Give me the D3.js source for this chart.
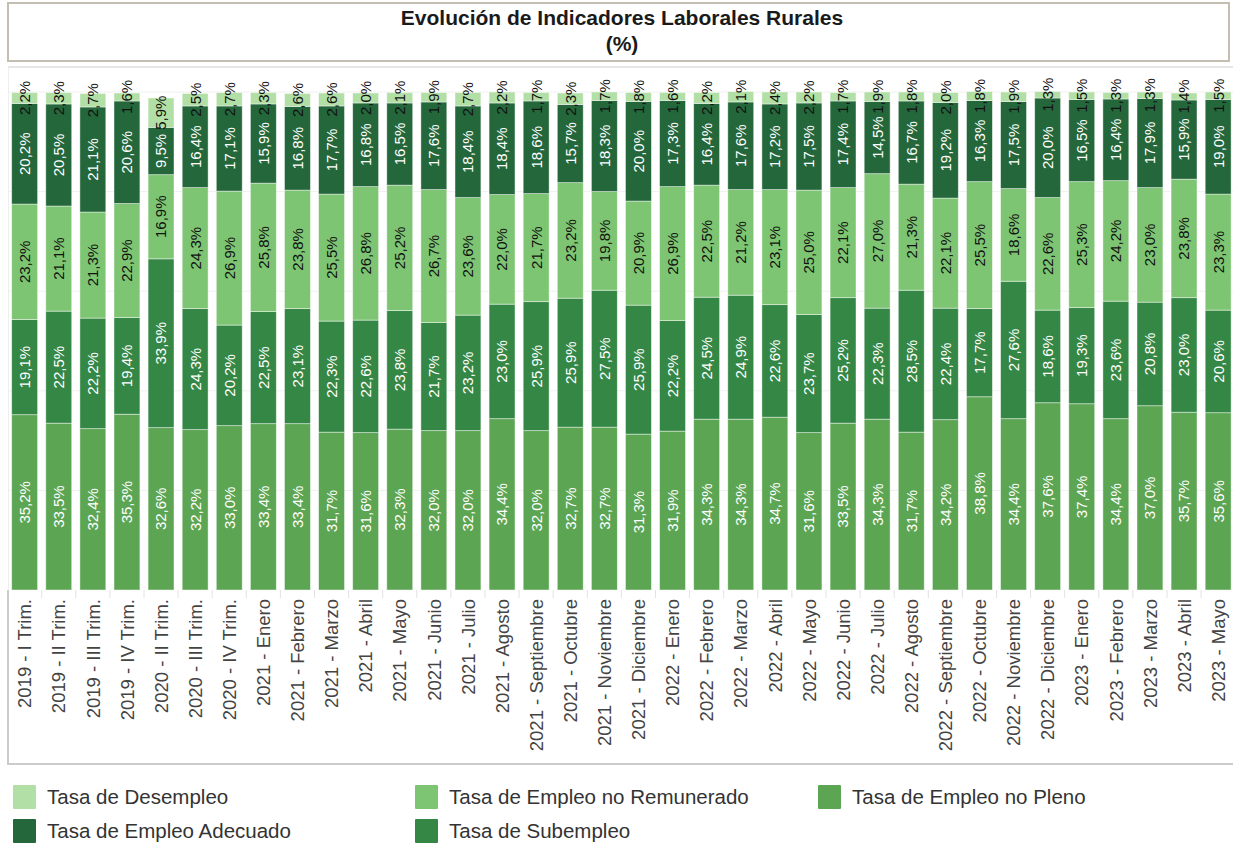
<!DOCTYPE html>
<html>
<head>
<meta charset="utf-8">
<script src="https://cdn.jsdelivr.net/npm/d3@7/dist/d3.min.js"></script>
<style>
  html, body { margin: 0; padding: 0; background: #fff; }
  svg { display: block; font-family: "Liberation Sans", Arial, sans-serif; }
</style>
</head>
<body>
<svg id="chart" width="1233" height="845"></svg>
<script>
// Periods on the category axis
const categories = [
  "2019 - I Trim.", "2019 - II Trim.", "2019 - III Trim.", "2019 - IV Trim.",
  "2020 - II Trim.", "2020 - III Trim.", "2020 - IV Trim.",
  "2021 - Enero", "2021 - Febrero", "2021 - Marzo", "2021 - Abril", "2021 - Mayo",
  "2021 - Junio", "2021 - Julio", "2021 - Agosto", "2021 - Septiembre",
  "2021 - Octubre", "2021 - Noviembre", "2021 - Diciembre",
  "2022 - Enero", "2022 - Febrero", "2022 - Marzo", "2022 - Abril", "2022 - Mayo",
  "2022 - Junio", "2022 - Julio", "2022 - Agosto", "2022 - Septiembre",
  "2022 - Octubre", "2022 - Noviembre", "2022 - Diciembre",
  "2023 - Enero", "2023 - Febrero", "2023 - Marzo", "2023 - Abril", "2023 - Mayo"
];

// Series values (%), stacked bottom to top
const empleoNoPleno = [35.2, 33.5, 32.4, 35.3, 32.6, 32.2, 33.0, 33.4, 33.4, 31.7, 31.6, 32.3,
  32.0, 32.0, 34.4, 32.0, 32.7, 32.7, 31.3, 31.9, 34.3, 34.3, 34.7, 31.6,
  33.5, 34.3, 31.7, 34.2, 38.8, 34.4, 37.6, 37.4, 34.4, 37.0, 35.7, 35.6];
const subempleo = [19.1, 22.5, 22.2, 19.4, 33.9, 24.3, 20.2, 22.5, 23.1, 22.3, 22.6, 23.8,
  21.7, 23.2, 23.0, 25.9, 25.9, 27.5, 25.9, 22.2, 24.5, 24.9, 22.6, 23.7,
  25.2, 22.3, 28.5, 22.4, 17.7, 27.6, 18.6, 19.3, 23.6, 20.8, 23.0, 20.6];
const empleoNoRemunerado = [23.2, 21.1, 21.3, 22.9, 16.9, 24.3, 26.9, 25.8, 23.8, 25.5, 26.8, 25.2,
  26.7, 23.6, 22.0, 21.7, 23.2, 19.8, 20.9, 26.9, 22.5, 21.2, 23.1, 25.0,
  22.1, 27.0, 21.3, 22.1, 25.5, 18.6, 22.6, 25.3, 24.2, 23.0, 23.8, 23.3];
const empleoAdecuado = [20.2, 20.5, 21.1, 20.6, 9.5, 16.4, 17.1, 15.9, 16.8, 17.7, 16.8, 16.5,
  17.6, 18.4, 18.4, 18.6, 15.7, 18.3, 20.0, 17.3, 16.4, 17.6, 17.2, 17.5,
  17.4, 14.5, 16.7, 19.2, 16.3, 17.5, 20.0, 16.5, 16.4, 17.9, 15.9, 19.0];
const desempleo = [2.2, 2.3, 2.7, 1.6, 5.9, 2.5, 2.7, 2.3, 2.6, 2.6, 2.0, 2.1,
  1.9, 2.7, 2.2, 1.7, 2.3, 1.7, 1.8, 1.6, 2.2, 2.1, 2.4, 2.2,
  1.7, 1.9, 1.8, 2.0, 1.8, 1.9, 1.3, 1.5, 1.3, 1.3, 1.4, 1.5];

const seriesNames = ["Tasa de Empleo no Pleno", "Tasa de Subempleo", "Tasa de Empleo no Remunerado",
  "Tasa de Empleo Adecuado", "Tasa de Desempleo"];
const seriesValues = [empleoNoPleno, subempleo, empleoNoRemunerado, empleoAdecuado, desempleo];
const seriesColors = ["#5ca553", "#358746", "#7dc572", "#24673b", "#b2dfa5"];
const labelColors = ["#ffffff", "#ffffff", "#111111", "#ffffff", "#111111"];

// Legend order (two rows)
const legendOrder = [
  "Tasa de Desempleo", "Tasa de Empleo no Remunerado", "Tasa de Empleo no Pleno",
  "Tasa de Empleo Adecuado", "Tasa de Subempleo"
];

const svg = d3.select("#chart");

// Title box
svg.append("rect")
  .attr("x", 8).attr("y", 3).attr("width", 1221).attr("height", 58)
  .attr("fill", "#fff").attr("stroke", "#c4bfb2").attr("stroke-width", 2);
svg.append("text")
  .attr("x", 622).attr("y", 25).attr("text-anchor", "middle")
  .attr("font-size", 21).attr("font-weight", "bold").attr("fill", "#1a1a1a")
  .text("Evolución de Indicadores Laborales Rurales");
svg.append("text")
  .attr("x", 622).attr("y", 51).attr("text-anchor", "middle")
  .attr("font-size", 21).attr("font-weight", "bold").attr("fill", "#1a1a1a")
  .text("(%)");

// Scales
const x = d3.scaleBand()
  .domain(categories)
  .range([7.6, 7.6 + 34.1 * categories.length])
  .paddingInner(0.24)
  .paddingOuter(0.12);
const y = d3.scaleLinear().domain([0, 100]).range([590, 92]);

// Plot frame and grid
svg.append("line")
  .attr("x1", 8).attr("x2", 1233).attr("y1", 67).attr("y2", 67)
  .attr("stroke", "#dedede").attr("stroke-width", 1.5);
svg.append("line")
  .attr("x1", 8.5).attr("x2", 8.5).attr("y1", 67).attr("y2", 590)
  .attr("stroke", "#eeeeee").attr("stroke-width", 1);
svg.append("g")
  .selectAll("line")
  .data(d3.range(20, 101, 20))
  .join("line")
  .attr("x1", 9).attr("x2", 1233)
  .attr("y1", d => y(d)).attr("y2", d => y(d))
  .attr("stroke", "#f0f0f0").attr("stroke-width", 1);

// Stacked data
const rows = categories.map((c, i) => {
  const r = { category: c };
  seriesNames.forEach((s, k) => { r[s] = seriesValues[k][i]; });
  return r;
});
const stacked = d3.stack().keys(seriesNames)(rows);

const fmt = v => d3.format(".1f")(v).replace(".", ",") + "%";

const layers = svg.append("g").selectAll("g")
  .data(stacked)
  .join("g")
  .attr("fill", (d, k) => seriesColors[k]);

layers.selectAll("rect")
  .data(d => d)
  .join("rect")
  .attr("x", d => x(d.data.category))
  .attr("width", x.bandwidth())
  .attr("y", d => y(d[1]))
  .attr("height", d => y(d[0]) - y(d[1]))
  .attr("stroke", "rgba(255,255,255,0.55)")
  .attr("stroke-width", 0.8);

// Data labels, rotated and centred on each segment
const labelLayer = svg.append("g");
stacked.forEach((layer, k) => {
  labelLayer.append("g")
    .selectAll("text")
    .data(layer)
    .join("text")
    .attr("transform", d => {
      const cx = x(d.data.category) + x.bandwidth() / 2;
      const cy = (y(d[0]) + y(d[1])) / 2;
      return `translate(${cx},${cy}) rotate(-90)`;
    })
    .attr("text-anchor", "middle")
    .attr("dy", "0.36em")
    .attr("font-size", 15)
    .attr("fill", labelColors[k])
    .text(d => fmt(d[1] - d[0]));
});

// Category axis box
svg.append("line")
  .attr("x1", 8).attr("x2", 8).attr("y1", 590).attr("y2", 765)
  .attr("stroke", "#cccccc").attr("stroke-width", 2);
svg.append("line")
  .attr("x1", 7).attr("x2", 1233).attr("y1", 764).attr("y2", 764)
  .attr("stroke", "#cccccc").attr("stroke-width", 2);

// Category separators
const step = x.step();
svg.append("g")
  .selectAll("line")
  .data(categories.slice(1))
  .join("line")
  .attr("x1", d => x(d) - (step - x.bandwidth()) / 2)
  .attr("x2", d => x(d) - (step - x.bandwidth()) / 2)
  .attr("y1", 590).attr("y2", 598)
  .attr("stroke", "#e2e2e2").attr("stroke-width", 1);

// Category labels
svg.append("g")
  .selectAll("text")
  .data(categories)
  .join("text")
  .attr("transform", d => `translate(${x(d) + x.bandwidth() / 2},599) rotate(-90)`)
  .attr("text-anchor", "end")
  .attr("dy", "0.36em")
  .attr("font-size", 18.5)
  .attr("fill", "#444")
  .text(d => d);

// Legend
const legendPos = [
  [13, 797], [415, 797], [818, 797],
  [13, 831], [415, 831]
];
const legend = svg.append("g").selectAll("g")
  .data(legendOrder)
  .join("g")
  .attr("transform", (d, i) => `translate(${legendPos[i][0]},${legendPos[i][1]})`);
legend.append("rect")
  .attr("x", 0).attr("y", -12).attr("width", 23).attr("height", 24).attr("rx", 1)
  .attr("fill", d => seriesColors[seriesNames.indexOf(d)]);
legend.append("text")
  .attr("x", 34).attr("y", 0).attr("dy", "0.36em")
  .attr("font-size", 20.5).attr("fill", "#333")
  .text(d => d);
</script>
</body>
</html>
